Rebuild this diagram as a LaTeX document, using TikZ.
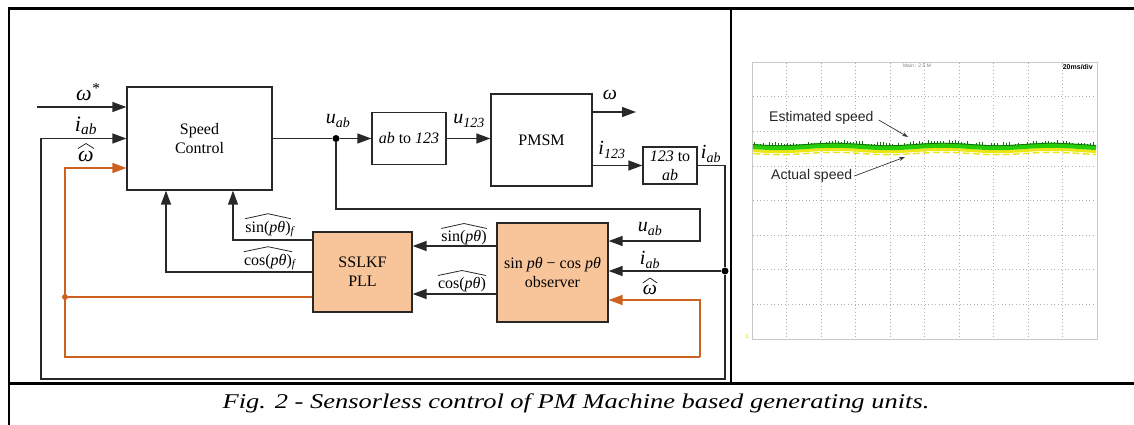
\documentclass[tikz,border=0pt]{standalone}
\usepackage{fontspec}
\setmainfont{Liberation Serif}
\newfontfamily\scopefont{Liberation Sans}
\usetikzlibrary{arrows.meta,calc}
\definecolor{ln}{RGB}{40,40,40}
\definecolor{org}{RGB}{205,98,32}
\definecolor{peach}{RGB}{248,196,154}
\definecolor{gridc}{RGB}{175,175,175}
\definecolor{scfr}{RGB}{200,200,200}
\definecolor{grn}{RGB}{40,205,10}
\definecolor{dgrn}{RGB}{20,110,20}
\definecolor{ylw}{RGB}{235,230,20}
\newcommand\drawhat[1]{\draw[hatl] ($(#1.north west)+(0,-2)$) -- ($(#1.north)+(0,-7)$) -- ($(#1.north east)+(0,-2)$);}
\begin{document}
\begin{tikzpicture}[x=1pt,y=-1pt,
  blk/.style={draw=ln, line width=1.3pt, inner sep=0pt, align=center, font=\fontsize{16}{19}\selectfont},
  obs/.style={blk, fill=peach},
  wire/.style={draw=ln, line width=1.4pt},
  arr/.style={wire, -{Triangle[length=14pt,width=10pt]}},
  owire/.style={draw=org, line width=1.4pt},
  oarr/.style={owire, -{Triangle[length=14pt,width=10pt]}},
  dot/.style={circle, fill=black, inner sep=0pt, minimum size=7pt},
  odot/.style={circle, fill=org, inner sep=0pt, minimum size=6pt},
  lbl/.style={inner sep=0pt, font=\fontsize{20}{22}\selectfont},
  llbl/.style={inner sep=0pt, font=\fontsize{22}{24}\selectfont},
  slbl/.style={inner sep=0pt, font=\fontsize{16}{18}\selectfont},
  hatl/.style={draw=ln, line width=0.8pt, line join=round},
  gridl/.style={draw=gridc, line width=0.6pt, dash pattern=on 1pt off 2.5pt},
  scl/.style={inner sep=0pt, font=\scopefont\fontsize{14}{16}\selectfont, text=black!85},
  sarr/.style={draw=black!80, line width=0.7pt, -{Stealth[length=6pt,width=4pt]}},
]
\useasboundingbox (0,0) rectangle (1134,425);
% table frame
\draw[line width=3pt] (7.5,9) -- (1134,9);
\draw[line width=2.5pt] (9,9) -- (9,425);
\draw[line width=2pt] (731,9) -- (731,383);
\draw[line width=3pt] (9,383) -- (1134,383);

% blocks
\node[blk, minimum width=145pt, minimum height=103pt] (sc) at (199.5,138.5) {Speed\\Control};
\node[blk, minimum width=74pt, minimum height=52pt] (abt) at (409,138.5) {\textit{ab} to \textit{123}};
\node[blk, minimum width=101pt, minimum height=92pt] (pmsm) at (541.5,140) {PMSM};
\node[blk, minimum width=54pt, minimum height=37pt] (tab) at (670,165.5) {\textit{123} to\\\textit{ab}};
\node[obs, minimum width=111pt, minimum height=99pt] (obsv) at (552.5,272.5) {sin \textit{pθ} − cos \textit{pθ}\\observer};
\node[obs, minimum width=99pt, minimum height=80pt] (pll) at (362.5,272) {SSLKF\\PLL};

% junctions and free ends
\coordinate (win) at (37,107);
\coordinate (wout) at (636,112);
\node[dot] (ud) at (336,138.5) {};
\node[dot] (jd) at (725,271) {};
\node[odot] (od) at (65,297) {};
\coordinate (bl) at (41,379);
\coordinate (ur) at (700,209);
\coordinate (obl) at (65,357);
\coordinate (obr) at (700,357);
\coordinate (os) at ($(obsv.west)+(0,-26.5)$);
\coordinate (oc) at ($(obsv.west)+(0,21.5)$);
\coordinate (ps) at ($(pll.west)+(0,-32)$);

% connectors
\draw[arr] (win) -- (win -| sc.west);
\draw[wire] (sc.east) -- (ud);
\draw[arr] (ud) -- (abt.west);
\draw[arr] (abt.east) -- (pmsm.west |- abt.east);
\draw[arr] (pmsm.east |- wout) -- (wout);
\draw[arr] (pmsm.east |- tab.west) -- (tab.west);
\draw[wire] (tab.east) -| (jd);
\draw[arr] (jd) -- (jd -| obsv.east);
\draw[arr] (jd) |- (bl) |- (sc.west);
\draw[arr] (ud) |- (ur) |- ($(obsv.east)+(0,-31.5)$);
\draw[arr] (os) -- (os -| pll.east);
\draw[arr] (oc) -- (oc -| pll.east);
\draw[arr] (ps) -| ($(sc.south)+(33.5,0)$);
\draw[arr] (pll.west) -| ($(sc.south)+(-33.5,0)$);
\draw[owire] (pll.west |- od) -- (od);
\draw[oarr] (obr) -- (obl) |- ($(sc.west)+(0,29.5)$);
\draw[oarr] (obr) |- ($(obsv.east)+(0,27.5)$);

% labels
\node[llbl] (lws) at (88,92) {\itshape ω\textsuperscript{*}};
\node[llbl] (liab) at (86,126) {\itshape i\textsubscript{ab}};
\node[llbl] (lwh) at (86,156) {\itshape ω}; \drawhat{lwh}
\node[lbl] (luab) at (338,121) {\itshape u\textsubscript{ab}};
\node[lbl] (lu123) at (469,121) {\itshape u\textsubscript{123}};
\node[lbl] (lw) at (610,95) {\itshape ω};
\node[lbl] (li123) at (612,150) {\itshape i\textsubscript{123}};
\node[lbl] (liab2) at (711,154) {\itshape i\textsubscript{ab}};
\node[lbl] (luab3) at (650,229) {\itshape u\textsubscript{ab}};
\node[lbl] (liab3) at (650,260) {\itshape i\textsubscript{ab}};
\node[lbl] (lwh3) at (650,290) {\itshape ω}; \drawhat{lwh3}
\node[slbl] (lsinf) at (268,229) {sin(\textit{pθ})\rlap{\textsubscript{\textit{f}}}}; \drawhat{lsinf}
\node[slbl] (lcosf) at (268,262) {cos(\textit{pθ})\rlap{\textsubscript{\textit{f}}}}; \drawhat{lcosf}
\node[slbl] (lsin) at (464,238) {sin(\textit{pθ})}; \drawhat{lsin}
\node[slbl] (lcos) at (462,285) {cos(\textit{pθ})}; \drawhat{lcos}

% oscilloscope
\draw[draw=scfr, line width=0.8pt] (752,62) rectangle (1097,339);
\foreach \k in {1,...,9} \draw[gridl] ({752+\k*34.5},63) -- ({752+\k*34.5},338);
\foreach \k in {1,...,7} \draw[gridl] (753,{62+\k*34.625}) -- (1096,{62+\k*34.625});
\draw[ylw, line width=1.4pt, dash pattern=on 7pt off 3pt] plot[domain=753:1096, samples=120] (\x, {153.5+1.2*sin((\x-752)*3.3)});
\draw[ylw, line width=3pt] plot[domain=753:1096, samples=120] (\x, {150.5+1.2*sin((\x-752)*3.3)});
\draw[grn, line width=5pt] plot[domain=753:1096, samples=120] (\x, {146.5+1.2*sin((\x-752)*3.3)});
\draw[dgrn, line width=0.8pt] plot[domain=753:1096, samples=120] (\x, {144.5+1.2*sin((\x-752)*3.3)});
\pgfmathsetseed{7}
\foreach \i in {0,...,113} {
  \pgfmathsetmacro\xx{754+3*\i}
  \pgfmathsetmacro\hh{0.5+3*rnd}
  \draw[dgrn, line width=0.6pt] (\xx,{144.5+1.2*sin((\xx-752)*3.3)}) -- ++(0,-\hh);
}
\node[scl, anchor=west] (est) at (769,118) {Estimated speed};
\node[scl, anchor=west] (act) at (771,176) {Actual speed};
\coordinate (esttip) at (908,137);
\coordinate (acttip) at (905,157);
\draw[sarr] ($(est.east)+(5,2)$) -- (esttip);
\draw[sarr] ($(act.east)+(2,0)$) -- (acttip);
\node[inner sep=0pt, font=\scopefont\fontsize{5}{6}\selectfont, text=gray] (mainl) at (917,66) {Main : 2.5 M};
\node[inner sep=0pt, anchor=east, font=\scopefont\bfseries\fontsize{7}{8}\selectfont] (divl) at (1093,67) {20ms/div};
\node[inner sep=0pt, font=\scopefont\bfseries\fontsize{6}{6}\selectfont, text=ylw] (m1) at (747,336) {1};

% caption
\node[inner sep=0pt, font=\fontsize{21}{24}\selectfont\itshape] (cap) at (576,403) {\scalebox{1.26}[1]{Fig. 2 - Sensorless control of PM Machine based generating units.}};
\end{tikzpicture}
\end{document}
